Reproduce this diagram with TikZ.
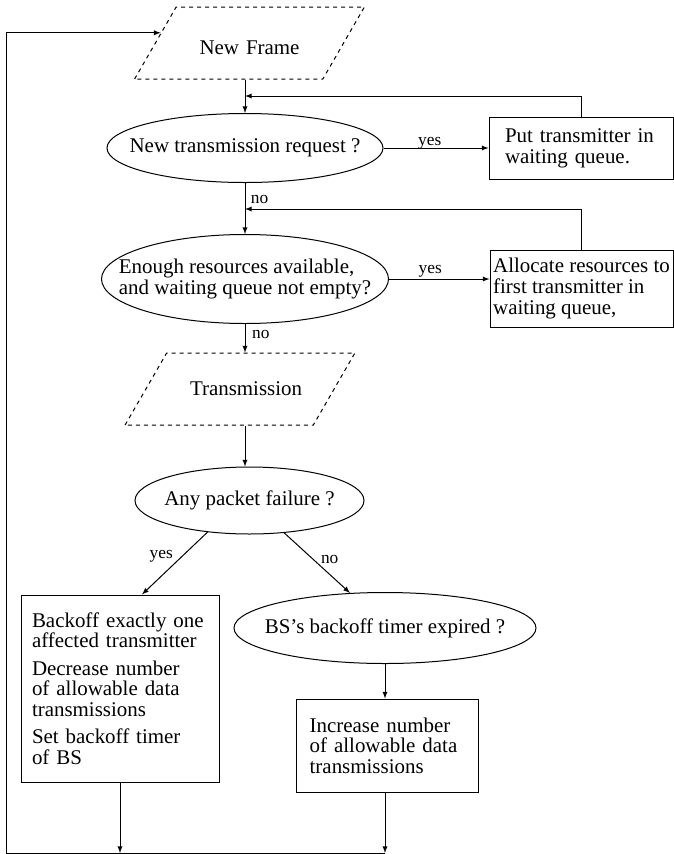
\documentclass[tikz,border=0pt]{standalone}
\usepackage{fontspec}
\setmainfont{Liberation Serif}
\usetikzlibrary{shapes.geometric,positioning,calc}

\begin{document}
\begin{tikzpicture}[x=0.75pt,y=-0.75pt,line width=0.75pt,
	every node/.style={font=\fontsize{15.7}{15.5}\selectfont},
	io/.style={trapezium,trapezium left angle=60,trapezium right angle=120,draw,dash pattern=on 3pt off 3pt,text width=75pt,align=center,text height=12pt,text depth=2pt,inner xsep=17.5pt,inner ysep=20pt},
	test/.style={ellipse,draw,align=left,inner xsep=-60pt,inner ysep=0pt},
	act/.style={rectangle,draw,align=left,inner xsep=0pt},
	lbl/.style={font=\fontsize{13}{13}\selectfont,inner sep=1pt}]
	\useasboundingbox (0,0) rectangle (674,854);
		% boxes and tests
		\node[io,text height=17pt,text depth=0pt,inner ysep=18.5pt] (frame) at (249.5,43) {New Frame};
		\node[test,minimum width=207pt,minimum height=51.75pt] (q1) at (245,148) {New transmission request ?};
		\node[act,minimum width=138pt,minimum height=46.5pt,text width=114pt] (put) at (581,148) {Put transmitter in\\waiting queue.};
		\node[test,minimum width=215.25pt,minimum height=66.75pt] (q2) at (245,279) {Enough resources available,\\and waiting queue not empty?};
		\node[act,minimum width=137.25pt,minimum height=57.75pt] (alloc) at (581.5,288.5) {Allocate resources to\\first transmitter in\\waiting queue,};
		\node[io] (trans) at (240,389) {Transmission};
		\node[test,minimum width=171.75pt,minimum height=50.25pt] (q3) at (249.5,500.5) {Any packet failure ?};
		\node[test,minimum width=226.5pt,minimum height=53.25pt] (q4) at (385,628) {BS's backoff timer expired ?};
		\node[act,minimum width=148.5pt,minimum height=140.25pt,text width=132pt] (backoff) at (120,688.5) {Backoff exactly one\\affected transmitter\\[5pt]Decrease number\\of allowable data\\transmissions\\[5pt]Set backoff timer\\of BS};
		\node[act,minimum width=136.5pt,minimum height=69.75pt,text width=116pt] (inc) at (387,745.5) {Increase number\\of allowable data\\transmissions};
		\coordinate (fb1) at (245,96);
		\coordinate (fb2) at (245,209);
		\coordinate (loop) at (6,853);
		\coordinate (entry) at ($(frame.bottom left corner)!0.64!(frame.top left corner)$);
		% connectors
		\draw[-latex] (frame.south -| q1.north) -- (q1.north);
		\draw[-latex] (put.north) |- (fb1);
		\draw[-latex] (q1.east) -- node[lbl,above=-2pt,pos=0.44] {yes} (put.west);
		\draw[-latex] (q1.south) -- node[lbl,right=3pt,pos=0.33] {no} (q2.north);
		\draw[-latex] (alloc.north) |- (fb2);
		\draw[-latex] (q2.east) -- node[lbl,above,pos=0.41] {yes} (q2.east -| alloc.west);
		\draw[-latex] (q2.south) -- node[lbl,right=4pt,pos=0.37] {no} (q2.south |- trans.north);
		\draw[-latex] (q2.south |- trans.south) -- (q2.south |- q3.north);
		\draw[-latex] (q3.217) -- node[lbl,left=6pt,pos=0.38] {yes} ($(backoff.north)+(22,0)$);
		\draw[-latex] (q3.317) -- node[lbl,right=4pt,pos=0.45] {no} (q4.135);
		\draw[-latex] (q4.south) -- (q4.south |- inc.north);
		% back to the new frame
		\draw[-latex] (backoff.south) -- (backoff.south |- loop);
		\draw[-latex] (q4.south |- inc.south) -- (q4.south |- loop);
		\draw[-latex] (q4.south |- loop) -- (loop) |- (entry);
	\end{tikzpicture}
\end{document}
